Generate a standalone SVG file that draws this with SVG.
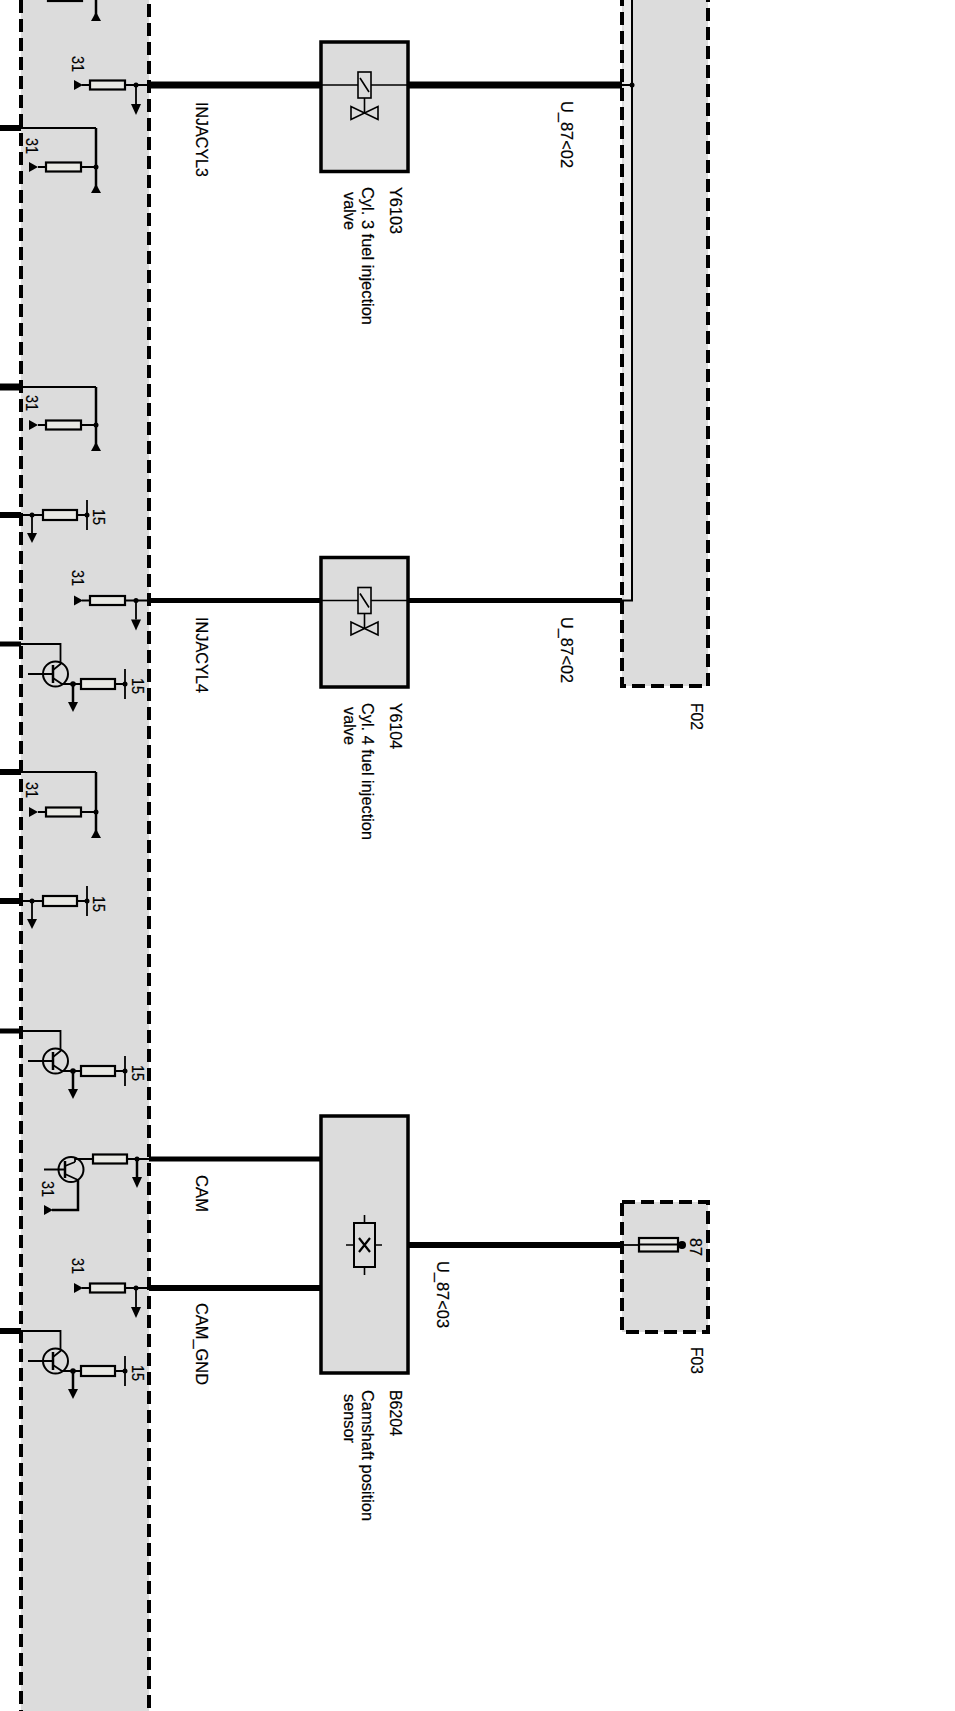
<svg xmlns="http://www.w3.org/2000/svg" width="955" height="1711" viewBox="0 0 955 1711">
<style>
.panel{fill:#dcdcdc;stroke:#000;stroke-width:4;stroke-dasharray:13 6}
.box{fill:#dcdcdc;stroke:#000;stroke-width:3.5}
.res{fill:#e9e9e4;stroke:#000;stroke-width:2.2}
.thin{fill:none;stroke:#000;stroke-width:1.8}
.wire{fill:none;stroke:#000}
.blk{fill:#000;stroke:none}
.sym{fill:none;stroke:#000;stroke-width:1.6}
.tr{fill:none;stroke:#000;stroke-width:2}
text{font-family:"Liberation Sans",Arial,sans-serif;font-size:17px;fill:#000;stroke:#000;stroke-width:.2}
</style>
<defs>
<g id="r31a">
<polygon class="blk" points="74,-5 74,5 83,0"/>
<path class="thin" d="M82,0H90M125,0H150M136,0V19"/>
<rect class="res" x="90" y="-4.500" width="35" height="9"/>
<circle class="blk" cx="136" cy="0" r="2.500"/>
<polygon class="blk" points="131,19 141,19 136,30"/>
</g>
<g id="r31b">
<polygon class="blk" points="29,-5 29,5 38,0"/>
<path class="thin" d="M38,0H46M81,0H96"/>
<path class="wire" stroke-width="2.500" d="M96,0V20"/>
<rect class="res" x="46" y="-4.500" width="35" height="9"/>
<circle class="blk" cx="96" cy="0" r="2.500"/>
<polygon class="blk" points="96,17 91,26 101,26"/>
</g>
<g id="r15">
<path class="thin" d="M21,0H43M77,0H87M32,0V18M87,-15V15"/>
<rect class="res" x="43" y="-5" width="34" height="10"/>
<circle class="blk" cx="32" cy="0" r="2.500"/>
<circle class="blk" cx="87" cy="0" r="2.500"/>
<polygon class="blk" points="27,18 37,18 32,28"/>
</g>
<g id="t15">
<path class="thin" d="M21,0H60.500V20L53,26M53,34L62,40H81M115,40H125M28,30H53M125,25V55"/>
<path class="wire" stroke-width="2.500" d="M73,40V58"/>
<path class="wire" stroke-width="2.500" d="M53,21V39"/>
<circle class="tr" cx="55.500" cy="30" r="12.500"/>
<rect class="res" x="81" y="35" width="34" height="10"/>
<circle class="blk" cx="73" cy="40" r="2.800"/>
<circle class="blk" cx="125" cy="40" r="2.500"/>
<polygon class="blk" points="68,58 78,58 73,68"/>
</g>
<g id="valve">
<rect class="sym" x="358" y="72" width="13" height="26"/>
<path class="sym" d="M321,85H358M371,85H408M360,78L369,92M364.500,98V113"/>
<path class="sym" d="M351,106.500V119.500L378,106.500V119.500Z"/>
</g>
</defs>

<g id="panels">
<rect id="panel-left" class="panel" x="21" y="-20" width="128" height="1760"/>
<rect id="F02" class="panel" x="622" y="-20" width="86" height="706"/>
<rect id="F02-strip" x="624" y="0" width="8" height="600" fill="#ececec"/>
<rect id="F03" class="panel" x="622" y="1202" width="86" height="130"/>
</g>

<g id="connectors">
<path class="wire" stroke-width="7" d="M149,85H321M408,85H622"/>
<path class="wire" stroke-width="5" d="M149,600.500H321M408,600.500H622"/>
<path class="wire" stroke-width="5" d="M149,1159H321"/>
<path class="wire" stroke-width="6" d="M149,1288H321"/>
<path class="wire" stroke-width="6" d="M408,1245H622"/>
<path class="wire" stroke-width="6" d="M0,128H21M0,515H21M0,772H21M0,901H21M0,1331H21"/>
<path class="wire" stroke-width="7" d="M0,387H21"/>
<path class="wire" stroke-width="5" d="M0,644H21M0,1031H21"/>
<path class="thin" d="M21,128H96M21,387H96M21,772H96"/>
<path class="wire" stroke-width="2.500" d="M96,128V167M96,387V425M96,772V812M96,0V15"/>
<path class="wire" stroke-width="2" d="M622,85H632M632,0V600.500H622"/>
<path class="thin" d="M622,1245H639"/>
<circle class="blk" cx="632" cy="85" r="2.500"/>
</g>

<g id="left-components">
<g id="comp-top">
<rect class="res" x="48" y="-8" width="34" height="9"/>
<polygon class="blk" points="96,12 91,21 101,21"/>
</g>
<g id="comp-injcyl3"><use href="#r31a" y="85"/><text transform="translate(72,56) rotate(90)" textLength="16" lengthAdjust="spacingAndGlyphs">31</text></g>
<g id="comp-a"><use href="#r31b" y="167"/><text transform="translate(26,138) rotate(90)" textLength="16" lengthAdjust="spacingAndGlyphs">31</text></g>
<g id="comp-b"><use href="#r31b" y="425"/><text transform="translate(26,395) rotate(90)" textLength="16" lengthAdjust="spacingAndGlyphs">31</text></g>
<g id="comp-c"><use href="#r15" y="515"/><text transform="translate(93,509) rotate(90)" textLength="16" lengthAdjust="spacingAndGlyphs">15</text></g>
<g id="comp-injcyl4"><use href="#r31a" y="600.500"/><text transform="translate(72,570) rotate(90)" textLength="16" lengthAdjust="spacingAndGlyphs">31</text></g>
<g id="comp-d"><use href="#t15" y="644"/><text transform="translate(132,678) rotate(90)" textLength="16" lengthAdjust="spacingAndGlyphs">15</text></g>
<g id="comp-e"><use href="#r31b" y="812"/><text transform="translate(26,782) rotate(90)" textLength="16" lengthAdjust="spacingAndGlyphs">31</text></g>
<g id="comp-f"><use href="#r15" y="901"/><text transform="translate(93,896) rotate(90)" textLength="16" lengthAdjust="spacingAndGlyphs">15</text></g>
<g id="comp-g"><use href="#t15" y="1031"/><text transform="translate(132,1065) rotate(90)" textLength="16" lengthAdjust="spacingAndGlyphs">15</text></g>
<g id="comp-cam">
<path class="thin" d="M150,1159H127M93,1159H75V1162M44,1169.500H65M65,1166L75,1162M65,1174L78,1180H78"/>
<path class="wire" stroke-width="2.500" d="M137,1159V1177M78,1180V1210H52M65,1161V1178"/>
<circle class="tr" cx="71" cy="1169.500" r="12.500"/>
<rect class="res" x="93" y="1154.500" width="34" height="9"/>
<circle class="blk" cx="137" cy="1159" r="2.500"/>
<polygon class="blk" points="132,1177 142,1177 137,1188"/>
<polygon class="blk" points="44,1205 44,1215 53,1210"/>
<text transform="translate(42,1181) rotate(90)" textLength="16" lengthAdjust="spacingAndGlyphs">31</text>
</g>
<g id="comp-camgnd"><use href="#r31a" y="1288"/><text transform="translate(72,1258) rotate(90)" textLength="16" lengthAdjust="spacingAndGlyphs">31</text></g>
<g id="comp-h"><use href="#t15" y="1331"/><text transform="translate(132,1365) rotate(90)" textLength="16" lengthAdjust="spacingAndGlyphs">15</text></g>
</g>

<g id="Y6103">
<rect class="box" x="321" y="42" width="87" height="129.500"/>
<use href="#valve"/>
<text transform="translate(390,187) rotate(90)" textLength="47" lengthAdjust="spacingAndGlyphs">Y6103</text>
<text transform="translate(362,187) rotate(90)" textLength="138" lengthAdjust="spacingAndGlyphs">Cyl. 3 fuel injection</text>
<text transform="translate(343.500,192) rotate(90)" textLength="38" lengthAdjust="spacingAndGlyphs">valve</text>
</g>

<g id="Y6104">
<rect class="box" x="321" y="557.500" width="87" height="129.500"/>
<use href="#valve" y="515.500"/>
<text transform="translate(390,703) rotate(90)" textLength="46" lengthAdjust="spacingAndGlyphs">Y6104</text>
<text transform="translate(362,703) rotate(90)" textLength="137" lengthAdjust="spacingAndGlyphs">Cyl. 4 fuel injection</text>
<text transform="translate(343.500,707) rotate(90)" textLength="38" lengthAdjust="spacingAndGlyphs">valve</text>
</g>

<g id="B6204">
<rect class="box" x="321" y="1116" width="87" height="257"/>
<path class="sym" d="M346,1245H354M375,1245H382M364.500,1215V1223M364.500,1267V1275"/>
<rect class="tr" x="354" y="1223" width="21" height="44"/>
<path class="wire" stroke-width="2.200" d="M359,1238L370,1252M370,1238L359,1252"/>
<text transform="translate(390,1390) rotate(90)" textLength="46" lengthAdjust="spacingAndGlyphs">B6204</text>
<text transform="translate(362,1390) rotate(90)" textLength="131" lengthAdjust="spacingAndGlyphs">Camshaft position</text>
<text transform="translate(343.500,1394) rotate(90)" textLength="49" lengthAdjust="spacingAndGlyphs">sensor</text>
</g>

<g id="F03-pin">
<rect class="res" x="639" y="1238" width="39" height="13.500"/>
<path class="wire" stroke-width="2" d="M639,1244.500H680"/>
<circle class="blk" cx="682" cy="1245" r="4"/>
<text transform="translate(690,1238) rotate(90)" textLength="18" lengthAdjust="spacingAndGlyphs">87</text>
</g>

<g id="labels">
<text transform="translate(195.500,102) rotate(90)" textLength="75" lengthAdjust="spacingAndGlyphs">INJACYL3</text>
<text transform="translate(195.500,617) rotate(90)" textLength="76" lengthAdjust="spacingAndGlyphs">INJACYL4</text>
<text transform="translate(195.500,1175) rotate(90)" textLength="37" lengthAdjust="spacingAndGlyphs">CAM</text>
<text transform="translate(195.500,1303) rotate(90)" textLength="82" lengthAdjust="spacingAndGlyphs">CAM_GND</text>
<text transform="translate(561,101) rotate(90)" textLength="67" lengthAdjust="spacingAndGlyphs">U_87&lt;02</text>
<text transform="translate(561,617) rotate(90)" textLength="66" lengthAdjust="spacingAndGlyphs">U_87&lt;02</text>
<text transform="translate(437,1261) rotate(90)" textLength="67" lengthAdjust="spacingAndGlyphs">U_87&lt;03</text>
<text transform="translate(691,703) rotate(90)" textLength="27" lengthAdjust="spacingAndGlyphs">F02</text>
<text transform="translate(691,1347) rotate(90)" textLength="27" lengthAdjust="spacingAndGlyphs">F03</text>
</g>
</svg>
